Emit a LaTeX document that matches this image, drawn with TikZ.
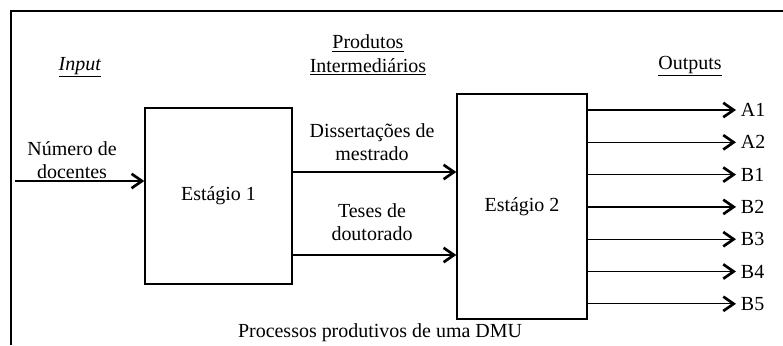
\documentclass[tikz,border=0pt]{standalone}
\usepackage{fontspec}
\setmainfont{Liberation Serif}
\usetikzlibrary{arrows.meta}

\tikzset{
  lbl/.style={font=\fontsize{14.2}{16.8}\selectfont, align=center},
  stage/.style={draw, line width=0.95pt, font=\fontsize{14.2}{16.8}\selectfont},
  flow/.style={line width=0.9pt, -{Straight Barb[length=2.6mm, width=3.6mm, line width=1.9pt]}}
}

\begin{document}
\begin{tikzpicture}[x=0.025cm, y=-0.025cm]
    \useasboundingbox (0,0) rectangle (783,345);
    % outer frame
    \draw[line width=1.2pt] (11,345) -- (11,11) -- (783,11);

    % headings
    \node[lbl] (hin) at (80,67) {\underline{\textit{Input}}};
    \node[lbl] (hmid) at (368,55) {\underline{Produtos}\\\underline{Intermedi\'arios}};
    \node[lbl] (hout) at (690,66) {\underline{Outputs}};

    % stages
    \node[stage, minimum width=3.675cm, minimum height=4.4cm] (s1) at (218.5,196) {Est\'agio 1};
    \node[stage, minimum width=3.25cm, minimum height=5.625cm] (s2) at (522,206.5) {Est\'agio 2};

    % input
    \coordinate (inp) at (15,181);
    \node[lbl] (docentes) at (72,160) {N\'umero de\\docentes};
    \draw[flow] (inp) -- (inp -| s1.west);

    % intermediate products
    \coordinate (m1) at (292,172);
    \coordinate (m2) at (292,255);
    \node[lbl] (diss) at (372,142) {Disserta\c{c}\~oes de\\mestrado};
    \node[lbl] (teses) at (372,222) {Teses de\\doutorado};
    \draw[flow] (m1) -- (m1 -| s2.west);
    \draw[flow] (m2) -- (m2 -| s2.west);

    % outputs
    \foreach \lab [count=\i from 0] in {A1,A2,B1,B2,B3,B4,B5} {
      \node[lbl, anchor=west] (o\lab) at (736,110+32.3*\i) {\lab};
      \draw[flow] (s2.east |- o\lab) -- (o\lab.west);
    }

    \node[lbl] (caption) at (380,333) {Processos produtivos de uma DMU};
\end{tikzpicture}
\end{document}
